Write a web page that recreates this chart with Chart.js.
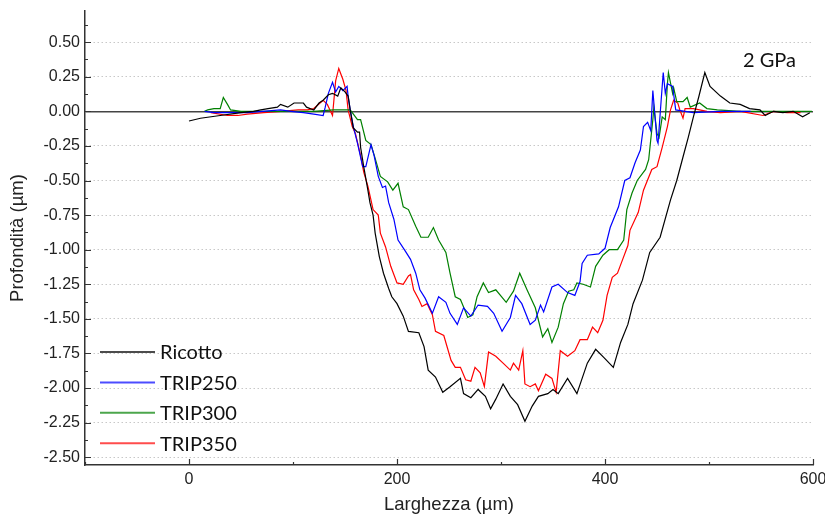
<!DOCTYPE html>
<html>
<head>
<meta charset="utf-8">
<script src="https://cdn.jsdelivr.net/npm/chart.js@4.4.0/dist/chart.umd.min.js"></script>
<style>
    html, body { margin: 0; padding: 0; background: #fff; }
</style>
</head>
<body>
<canvas id="myChart" width="825" height="518"></canvas>
<script>
// profili di indentazione, 2 GPa (x in µm, y in µm)
const ricottoX = [0, 11, 30, 50, 62, 69, 76, 85, 88, 95, 101, 110, 113, 120, 125, 129, 134, 138, 143, 146, 150, 153, 155, 158, 162, 164, 165, 168, 172, 174, 177, 179, 183, 187, 192, 195, 200, 206, 211, 221, 226, 230, 237, 244, 251, 261, 264, 271, 278, 285, 290, 295, 302, 309, 316, 323, 330, 336, 345, 350, 355, 364, 373, 383, 391, 399, 408, 415, 422, 427, 436, 443, 453, 463, 469, 475, 480, 485, 490, 496, 501, 511, 520, 530, 539, 549, 554, 562, 571, 581, 590, 597];
const ricottoY = [-0.07, -0.05, -0.03, -0.01, 0.00, 0.01, 0.02, 0.03, 0.05, 0.03, 0.06, 0.06, 0.03, 0.01, 0.06, 0.08, 0.12, 0.13, 0.11, 0.17, 0.14, 0.11, 0.01, -0.12, -0.15, -0.15, -0.26, -0.40, -0.57, -0.66, -0.75, -0.88, -1.05, -1.17, -1.28, -1.34, -1.39, -1.48, -1.59, -1.60, -1.70, -1.87, -1.92, -2.03, -1.99, -1.93, -2.04, -2.07, -2.01, -2.06, -2.15, -2.08, -1.97, -2.06, -2.12, -2.24, -2.13, -2.06, -2.04, -2.01, -2.04, -1.93, -2.04, -1.82, -1.72, -1.78, -1.85, -1.67, -1.54, -1.39, -1.22, -1.02, -0.91, -0.64, -0.50, -0.33, -0.19, -0.04, 0.10, 0.28, 0.18, 0.11, 0.06, 0.05, 0.02, 0.01, -0.03, 0.00, -0.01, 0.00, -0.04, -0.01];

const trip250X = [15, 24, 56, 88, 98, 110, 120, 129, 131, 134, 138, 141, 144, 148, 152, 153, 155, 158, 162, 167, 170, 175, 178, 182, 186, 189, 192, 197, 201, 208, 213, 218, 222, 227, 234, 240, 247, 251, 258, 264, 271, 278, 287, 293, 301, 309, 314, 320, 328, 333, 338, 341, 349, 355, 364, 371, 376, 378, 383, 394, 400, 405, 413, 419, 424, 429, 434, 437, 441, 444, 446, 450, 451, 454, 456, 458, 460, 465, 468, 485, 511, 540];
const trip250Y = [0.00, -0.01, -0.01, 0.01, 0.00, -0.01, -0.02, -0.03, 0.03, 0.13, 0.21, 0.14, 0.18, 0.15, 0.18, 0.11, 0.01, -0.11, -0.23, -0.40, -0.40, -0.24, -0.32, -0.47, -0.55, -0.54, -0.66, -0.78, -0.93, -1.01, -1.07, -1.17, -1.29, -1.35, -1.46, -1.34, -1.38, -1.46, -1.54, -1.42, -1.48, -1.40, -1.41, -1.46, -1.59, -1.49, -1.33, -1.39, -1.54, -1.51, -1.40, -1.45, -1.27, -1.25, -1.31, -1.33, -1.23, -1.10, -1.04, -1.03, -0.99, -0.84, -0.69, -0.50, -0.48, -0.37, -0.28, -0.11, -0.08, -0.14, 0.15, -0.21, -0.23, 0.08, 0.28, 0.13, 0.20, 0.18, 0.01, -0.01, 0.00, 0.00];

const trip300X = [15, 18, 24, 30, 33, 37, 40, 50, 88, 120, 139, 155, 162, 165, 170, 175, 179, 184, 191, 196, 201, 206, 211, 218, 223, 230, 235, 240, 247, 251, 256, 261, 266, 268, 273, 277, 283, 288, 295, 305, 312, 318, 325, 333, 340, 345, 349, 355, 360, 365, 370, 373, 379, 386, 391, 398, 404, 412, 418, 421, 426, 431, 439, 442, 446, 447, 450, 452, 455, 458, 460, 461, 465, 466, 469, 475, 479, 482, 491, 498, 508, 530, 559, 578, 599];
const trip300Y = [0.00, 0.01, 0.02, 0.02, 0.10, 0.05, 0.01, 0.00, 0.00, 0.00, 0.01, 0.01, -0.06, -0.06, -0.21, -0.24, -0.34, -0.47, -0.51, -0.57, -0.52, -0.69, -0.71, -0.83, -0.91, -0.91, -0.84, -0.93, -1.02, -1.17, -1.34, -1.36, -1.45, -1.49, -1.47, -1.34, -1.24, -1.31, -1.29, -1.38, -1.30, -1.17, -1.29, -1.42, -1.63, -1.57, -1.67, -1.56, -1.39, -1.30, -1.29, -1.24, -1.25, -1.27, -1.12, -1.04, -1.00, -1.00, -0.93, -0.71, -0.59, -0.50, -0.42, -0.35, -0.06, 0.03, -0.16, -0.19, -0.04, -0.06, 0.20, 0.28, 0.13, 0.17, 0.07, 0.07, 0.10, 0.03, 0.06, 0.02, 0.01, 0.00, 0.00, 0.00, 0.00];

const trip350X = [21, 37, 47, 56, 72, 88, 105, 114, 120, 126, 129, 133, 138, 141, 144, 148, 151, 153, 157, 160, 165, 168, 172, 177, 182, 184, 189, 194, 200, 206, 211, 213, 216, 221, 224, 229, 234, 237, 245, 252, 256, 261, 266, 271, 275, 280, 284, 288, 295, 302, 309, 312, 317, 321, 323, 328, 333, 336, 343, 349, 353, 357, 364, 371, 376, 383, 388, 393, 398, 402, 407, 412, 417, 422, 424, 432, 437, 445, 450, 455, 460, 463, 466, 470, 472, 475, 477, 485, 498, 511, 530, 552, 562, 575, 588];
const trip350Y = [-0.01, -0.03, -0.03, -0.02, -0.01, 0.00, 0.01, 0.01, 0.02, 0.06, 0.08, 0.05, -0.03, 0.22, 0.31, 0.23, 0.15, 0.01, -0.11, -0.16, -0.32, -0.44, -0.54, -0.71, -0.75, -0.88, -0.98, -1.12, -1.24, -1.25, -1.19, -1.18, -1.29, -1.36, -1.41, -1.39, -1.47, -1.59, -1.62, -1.80, -1.85, -1.85, -1.94, -1.95, -1.85, -1.89, -1.99, -1.74, -1.77, -1.82, -1.87, -1.82, -1.87, -1.73, -1.97, -1.99, -1.97, -2.02, -1.90, -1.93, -2.03, -1.73, -1.77, -1.73, -1.65, -1.65, -1.56, -1.60, -1.51, -1.33, -1.20, -1.17, -1.07, -0.97, -0.86, -0.73, -0.57, -0.42, -0.40, -0.26, -0.11, 0.01, 0.08, 0.06, 0.01, -0.05, 0.02, 0.02, 0.00, -0.01, 0.00, -0.03, 0.00, -0.01, -0.01];

const seriesLabels = ['Ricotto', 'TRIP250', 'TRIP300', 'TRIP350'];
const seriesColors = ['#000000', '#0000ff', '#008000', '#ff0000'];
const yTicks = [-2.5, 0.5, 0.25];   // primo, ultimo, passo
const xTicks = [0, 600, 200];

function toPoints(xs, ys) {
    const pts = [];
    for (let i = 0; i < Math.min(xs.length, ys.length); i++) {
        pts.push({x: xs[i], y: ys[i]});
    }
    return pts;
}

// tacche interne (maggiori e minori) sugli assi
const innerTicks = {
    id: 'innerTicks',
    afterDraw(chart) {
        const {ctx, chartArea, scales: {x, y}} = chart;
        ctx.save();
        ctx.strokeStyle = '#333';
        ctx.lineWidth = 1.2;
        ctx.beginPath();
        for (let v = x.min; v <= x.max + 1e-9; v += xTicks[2] / 2) {
            const px = Math.round(x.getPixelForValue(v)) + 0.5;
            const len = Math.abs(v % xTicks[2]) < 1e-9 ? 6 : 3;
            ctx.moveTo(px, chartArea.bottom);
            ctx.lineTo(px, chartArea.bottom - len);
        }
        for (let v = yTicks[0]; v <= y.max + 1e-9; v += yTicks[2] / 2) {
            const py = Math.round(y.getPixelForValue(v)) + 0.5;
            const major = Math.abs(Math.round(v / yTicks[2]) * yTicks[2] - v) < 1e-9;
            ctx.moveTo(chartArea.left, py);
            ctx.lineTo(chartArea.left + (major ? 6 : 3), py);
        }
        ctx.stroke();
        ctx.restore();
    }
};

// legenda dentro l'area del grafico + etichetta pressione
const insideLegend = {
    id: 'insideLegend',
    afterDraw(chart) {
        const ctx = chart.ctx;
        ctx.save();
        ctx.font = '20px Lato';
        ctx.textBaseline = 'middle';
        ctx.fillStyle = '#111';
        chart.data.datasets.forEach((ds, i) => {
            const yy = 352 + i * 30.4;
            ctx.globalAlpha = 0.7;
            ctx.strokeStyle = ds.borderColor;
            ctx.lineWidth = 2;
            ctx.beginPath();
            ctx.moveTo(100, yy);
            ctx.lineTo(155, yy);
            ctx.stroke();
            ctx.globalAlpha = 1;
            ctx.fillText(ds.label, 160, yy + 1);
        });
        ctx.fillText('2 GPa', 743, 61);
        ctx.restore();
    }
};

const isZero = (c) => c.tick && Math.abs(c.tick.value) < 1e-9;

const config = {
    type: 'line',
    data: {
        datasets: [
            {label: seriesLabels[0], data: toPoints(ricottoX, ricottoY), borderColor: seriesColors[0]},
            {label: seriesLabels[1], data: toPoints(trip250X, trip250Y), borderColor: seriesColors[1]},
            {label: seriesLabels[2], data: toPoints(trip300X, trip300Y), borderColor: seriesColors[2]},
            {label: seriesLabels[3], data: toPoints(trip350X, trip350Y), borderColor: seriesColors[3]}
        ]
    },
    options: {
        responsive: false,
        animation: false,
        devicePixelRatio: 1,
        layout: {padding: {top: 11, right: 12, left: 0, bottom: 0}},
        elements: {
            line: {borderWidth: 1.2, tension: 0},
            point: {radius: 0}
        },
        plugins: {
            legend: {display: false},
            tooltip: {enabled: false}
        },
        scales: {
            x: {
                type: 'linear',
                min: -100,
                max: 600,
                afterFit: (s) => { s.height = 53; s.paddingLeft = 0; s.paddingRight = 0; },
                grid: {display: false, drawTicks: false},
                border: {display: true, color: '#333', width: 1.5},
                ticks: {
                    stepSize: xTicks[2],
                    includeBounds: false,
                    padding: 5,
                    color: '#222',
                    font: {family: 'Liberation Sans', size: 16}
                },
                title: {
                    display: true,
                    text: 'Larghezza (µm)',
                    color: '#222',
                    font: {family: 'Liberation Sans', size: 18.5},
                    padding: {top: 0, bottom: 2}
                }
            },
            y: {
                min: -2.556,
                max: 0.725,
                afterFit: (s) => { s.width = 85; s.paddingTop = 0; s.paddingBottom = 0; },
                grid: {
                    drawTicks: false,
                    color: (c) => isZero(c) ? '#444' : '#c8c8c8',
                    lineWidth: (c) => isZero(c) ? 1.5 : 1
                },
                border: {
                    display: true,
                    color: '#333',
                    width: 1.5,
                    dash: (c) => isZero(c) ? [] : [1.5, 2.5]
                },
                ticks: {
                    stepSize: yTicks[2],
                    includeBounds: false,
                    padding: 5,
                    color: '#222',
                    font: {family: 'Liberation Sans', size: 16},
                    callback: (v) => v.toFixed(2)
                },
                title: {
                    display: true,
                    text: 'Profondità (µm)',
                    color: '#222',
                    font: {family: 'Liberation Sans', size: 18.5},
                    padding: {top: 7, bottom: 0}
                }
            }
        }
    },
    plugins: [innerTicks, insideLegend]
};

const myChartObject = document.getElementById('myChart').getContext('2d');
const chart = new Chart(myChartObject, config);
</script>
</body>
</html>
